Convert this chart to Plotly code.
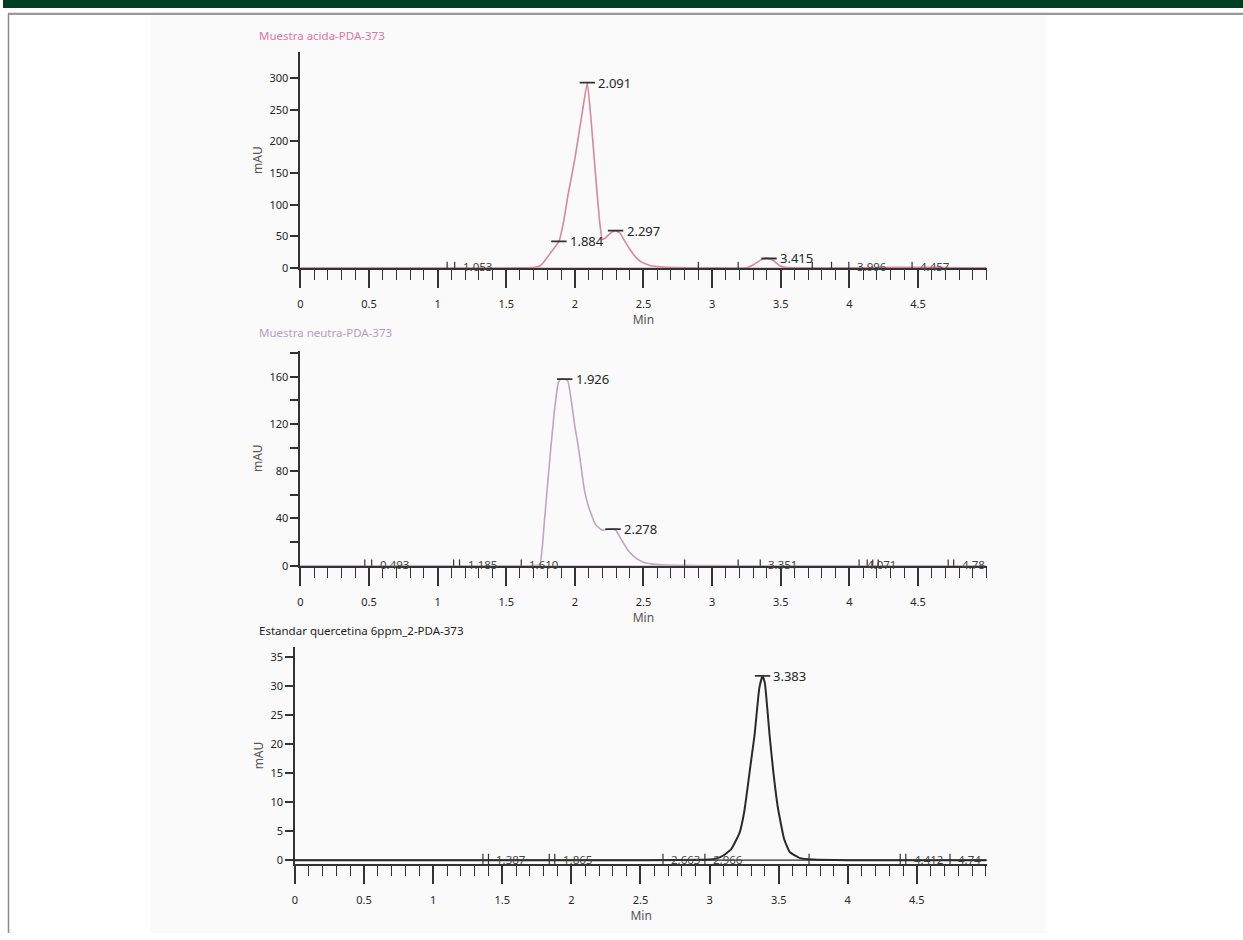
import plotly.graph_objects as go

W, H = 1243, 940

# ---------------- data ----------------
acid_t = [0.0, 0.5, 1.0, 1.5, 1.65, 1.71, 1.75, 1.78, 1.83, 1.884, 1.92, 1.95, 2.0, 2.05, 2.091,
          2.12, 2.15, 2.18, 2.20, 2.22, 2.26, 2.297, 2.33, 2.36, 2.40, 2.44, 2.48, 2.55, 2.65,
          2.8, 3.0, 3.25, 3.30, 3.35, 3.39, 3.415, 3.45, 3.49, 3.53, 3.6, 4.0, 4.2, 4.3, 4.45,
          4.6, 4.8, 5.0]
acid_y = [0.0, 0.0, 0.0, 0.0, 0.3, 1.0, 4.0, 11.0, 26.0, 42.0, 75.0, 115.0, 172.0, 240.0, 293.0,
          230.0, 150.0, 75.0, 45.0, 47.0, 55.0, 59.0, 55.0, 44.0, 30.0, 18.0, 10.0, 4.0, 1.5,
          0.5, 0.2, 0.3, 5.0, 12.0, 15.5, 15.0, 11.0, 4.0, 1.0, 0.3, 0.3, 0.6, 1.0, 1.2,
          1.0, 0.4, 0.2]

neutral_t = [0.0, 0.5, 1.0, 1.5, 1.70, 1.745, 1.78, 1.81, 1.85, 1.88, 1.90, 1.926, 1.95, 1.98,
             2.0, 2.025, 2.07, 2.10, 2.15, 2.20, 2.25, 2.278, 2.30, 2.33, 2.39, 2.45, 2.5, 2.6,
             2.8, 3.0, 3.5, 4.0, 4.5, 5.0]
neutral_y = [0.0, 0.0, 0.0, 0.0, 0.2, 1.0, 40.0, 80.0, 130.0, 155.0, 158.0, 158.0, 156.0, 135.0,
             118.0, 101.0, 64.0, 50.0, 35.0, 30.0, 31.0, 31.0, 30.0, 24.0, 12.6, 6.0, 3.0, 1.0,
             0.3, 0.1, 0.0, 0.0, 0.0, 0.0]

std_t = [0.0, 0.5, 1.0, 1.5, 2.0, 2.5, 3.0, 3.05, 3.10, 3.157, 3.217, 3.25, 3.278, 3.30, 3.326,
         3.36, 3.383, 3.40, 3.434, 3.46, 3.494, 3.54, 3.58, 3.65, 3.75, 4.0, 4.5, 5.0]
std_y = [0.0, 0.0, 0.0, 0.0, 0.0, 0.0, 0.1, 0.3, 0.8, 1.9, 4.7, 8.2, 13.0, 17.0, 21.6,
         29.6, 31.7, 30.5, 21.6, 15.5, 9.1, 3.6, 1.4, 0.4, 0.1, 0.0, 0.0, 0.0]

# labelled peaks (retention time, height)
acid_peaks_t = [2.091, 1.884, 2.297, 3.415]
acid_peaks_y = [293.0, 42.0, 59.0, 15.0]
neutral_peaks_t = [1.926, 2.278]
neutral_peaks_y = [158.0, 31.0]
std_peaks_t = [3.383]
std_peaks_y = [31.7]

# small integration labels sitting on the baseline
acid_minor_t = [1.07, 1.125, 2.90, 3.19, 3.73, 3.87, 3.996, 4.457]
acid_minor_lbl = ["", "1.053", "", "", "", "", "3.996", "4.457"]
neutral_minor_t = [0.47, 0.52, 1.117, 1.16, 1.61, 2.80, 3.19, 3.351, 4.13, 4.17, 4.21, 4.071, 4.72, 4.76]
neutral_minor_lbl = ["", "0.493", "", "1.185", "1.610", "", "", "3.351", "", "", "", "4.071", "", "4.78"]
std_minor_t = [1.36, 1.40, 1.84, 1.88, 2.663, 2.966, 3.72, 4.38, 4.42, 4.74]
std_minor_lbl = ["", "1.387", "", "1.865", "2.663", "2.966", "", "", "4.412", "4.74"]

# tick values
x_major = [0, 0.5, 1, 1.5, 2, 2.5, 3, 3.5, 4, 4.5]
acid_yticks = [0, 50, 100, 150, 200, 250, 300]
neutral_yticks = [0, 40, 80, 120, 160]
std_yticks = [0, 5, 10, 15, 20, 25, 30, 35]

# ---------------- helpers ----------------
def px(x):
    return x / W


def py(y):
    return 1 - y / H


FONT = "Noto Sans"
AX = "#333333"
TXT = "#262626"

panels = [
    dict(t=acid_t, y=acid_y, color="#d8879f", lw=1.6,
         xdom=(298, 986), ydom=(52.7, 270), xr=[0, 5.0], yr=[0, 341],
         ytv=acid_yticks, yminor=None,
         pk_t=acid_peaks_t, pk_y=acid_peaks_y, mn_t=acid_minor_t, mn_l=acid_minor_lbl,
         title="Muestra acida-PDA-373", tcolor="#e0769f", ty=36),
    dict(t=neutral_t, y=neutral_y, color="#b9a9b9", lw=1.6,
         xdom=(298, 986), ydom=(353.3, 570), xr=[0, 5.0], yr=[0, 182],
         ytv=neutral_yticks, yminor=20,
         pk_t=neutral_peaks_t, pk_y=neutral_peaks_y, mn_t=neutral_minor_t, mn_l=neutral_minor_lbl,
         title="Muestra neutra-PDA-373", tcolor="#b3a0bf", ty=335),
    dict(t=std_t, y=std_y, color="#2a2a2a", lw=2.0,
         xdom=(292.7, 986.7), ydom=(651.7, 870.7), xr=[0, 5.01], yr=[-0.7, 36.7],
         ytv=std_yticks, yminor=None,
         pk_t=std_peaks_t, pk_y=std_peaks_y, mn_t=std_minor_t, mn_l=std_minor_lbl,
         title="Estandar quercetina 6ppm_2-PDA-373", tcolor="#1e1e1e", ty=635),
]

fig = go.Figure()
annotations = []
layout = {}

for i, p in enumerate(panels, start=1):
    xa = "x" if i == 1 else f"x{i}"
    ya = "y" if i == 1 else f"y{i}"
    xkey = "xaxis" if i == 1 else f"xaxis{i}"
    ykey = "yaxis" if i == 1 else f"yaxis{i}"

    # baseline (zero) line across the run
    fig.add_trace(go.Scatter(x=[p["xr"][0], p["xr"][1]], y=[0, 0], xaxis=xa, yaxis=ya,
                             mode="lines", line=dict(color=p["color"], width=1.2),
                             hoverinfo="skip", showlegend=False))
    # chromatogram
    fig.add_trace(go.Scatter(x=p["t"], y=p["y"], xaxis=xa, yaxis=ya, mode="lines",
                             line=dict(color=p["color"], width=p["lw"], shape="spline", smoothing=0.4),
                             showlegend=False))
    # integration event ticks on the baseline
    fig.add_trace(go.Scatter(x=p["mn_t"], y=[0] * len(p["mn_t"]), xaxis=xa, yaxis=ya, mode="markers",
                             marker=dict(symbol="line-ns", size=9, line=dict(color="#333", width=1.2)),
                             hoverinfo="skip", showlegend=False))
    # peak apex dashes
    fig.add_trace(go.Scatter(x=p["pk_t"], y=p["pk_y"], xaxis=xa, yaxis=ya, mode="markers",
                             marker=dict(symbol="line-ew", size=11, line=dict(color="#333", width=1.8)),
                             hoverinfo="skip", showlegend=False))
    for t, v in zip(p["pk_t"], p["pk_y"]):
        annotations.append(dict(x=t, y=v, xref=xa, yref=ya, text=f"{t:.3f}", showarrow=False,
                                xanchor="left", yanchor="middle", xshift=9,
                                font=dict(family=FONT, size=13, color=TXT)))
    for t, lbl in zip(p["mn_t"], p["mn_l"]):
        if lbl:
            annotations.append(dict(x=t, y=0, xref=xa, yref=ya, text=lbl, showarrow=False,
                                    xanchor="left", yanchor="middle", xshift=6, yshift=1,
                                    font=dict(family=FONT, size=11.5, color="#444")))

    layout[xkey] = dict(
        domain=[px(p["xdom"][0]), px(p["xdom"][1])], range=p["xr"], anchor=ya,
        showgrid=False, zeroline=False, showline=True, linecolor=AX, linewidth=1.6,
        tickmode="array", tickvals=x_major, ticks="outside", ticklen=18, tickwidth=1.5,
        tickcolor=AX, ticklabelstandoff=7,
        tickfont=dict(family=FONT, size=11, color=TXT),
        minor=dict(dtick=0.1, tick0=0, ticks="outside", ticklen=10, tickwidth=1.3, tickcolor=AX),
        title=dict(text="Min", standoff=1, font=dict(family=FONT, size=12, color="#555")),
        fixedrange=True,
    )
    ydict = dict(
        domain=[py(p["ydom"][1]), py(p["ydom"][0])], range=p["yr"], anchor=xa,
        showgrid=False, zeroline=False, showline=True, linecolor=AX, linewidth=1.6,
        tickmode="array", tickvals=p["ytv"], ticks="outside", ticklen=8, tickwidth=1.5,
        tickcolor=AX, tickfont=dict(family=FONT, size=11, color=TXT),
        title=dict(text="mAU", standoff=4, font=dict(family=FONT, size=12, color="#555")),
        fixedrange=True,
    )
    if p["yminor"]:
        ydict["minor"] = dict(dtick=p["yminor"], tick0=0, ticks="outside", ticklen=8,
                              tickwidth=1.5, tickcolor=AX)
    layout[ykey] = ydict

    annotations.append(dict(x=px(255), y=py(p["ty"]), xref="paper", yref="paper", text=p["title"],
                            showarrow=False, xanchor="left", yanchor="middle",
                            font=dict(family=FONT, size=11.5, color=p["tcolor"])))

shapes = [
    dict(type="rect", xref="paper", yref="paper", x0=px(148), x1=px(1046), y0=0, y1=py(14),
         fillcolor="#fafafa", line=dict(width=0), layer="below"),
    dict(type="rect", xref="paper", yref="paper", x0=0, x1=1, y0=py(8), y1=1,
         fillcolor="#003f22", line=dict(width=0), layer="below"),
    dict(type="line", xref="paper", yref="paper", x0=px(5), x1=1, y0=py(14), y1=py(14),
         line=dict(color="#999999", width=2.2), layer="below"),
    dict(type="line", xref="paper", yref="paper", x0=px(5.5), x1=px(5.5), y0=0, y1=py(14),
         line=dict(color="#8a8a8a", width=1.5), layer="below"),
]

fig.update_layout(
    width=W, height=H, margin=dict(l=0, r=0, t=0, b=0),
    paper_bgcolor="white", plot_bgcolor="rgba(0,0,0,0)",
    showlegend=False, annotations=annotations, shapes=shapes,
    **layout,
)

fig.write_html("out.html", config={"displayModeBar": False})
